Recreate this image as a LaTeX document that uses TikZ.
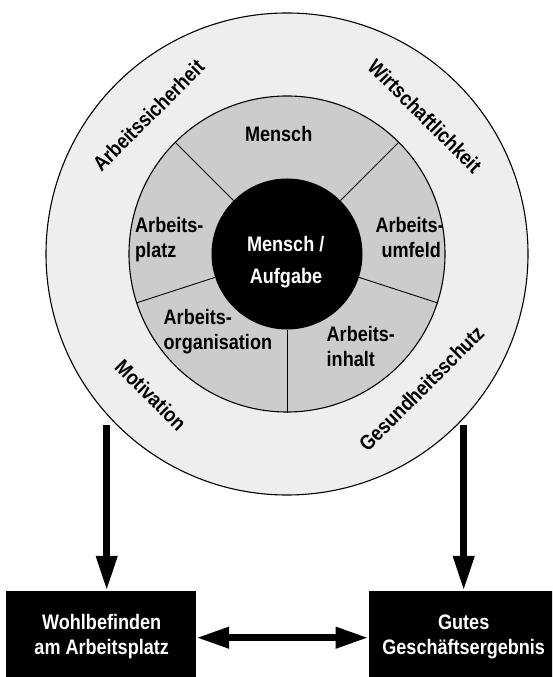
\documentclass[tikz,border=0pt]{standalone}
\usepackage{fontspec}
\newfontfamily\dfont{Liberation Sans}[FakeStretch=0.86]
\usetikzlibrary{arrows.meta,calc}
\definecolor{ringgray}{HTML}{EEEEEE}
\definecolor{sectgray}{HTML}{CCCCCC}
\begin{document}
\begin{tikzpicture}[x=1pt,y=1pt,
  lbl/.style={inner sep=0pt, font=\dfont\bfseries\fontsize{21pt}{25pt}\selectfont},
  wlbl/.style={lbl, text=white},
  ring/.style={circle, draw=black, line width=1.1pt, inner sep=0pt},
  divider/.style={draw=black, line width=0.9pt},
  resbox/.style={rectangle, fill=black, inner sep=0pt, minimum width=190pt, minimum height=93.4pt},
  bigarrow/.style={line width=7pt, -{Triangle[length=35pt 0 0,width=20pt 0 0]}},
  dblarrow/.style={line width=7pt, {Triangle[length=33pt 0 0,width=20pt 0 0]}-{Triangle[length=33pt 0 0,width=20pt 0 0]}}
]
\useasboundingbox (0,0) rectangle (552,677);
\clip (0,0) rectangle (552,677);
\fill[white] (0,0) rectangle (552,677);
\coordinate (C) at (287,423);
\node[ring, fill=ringgray, minimum size=482pt] (outer) at (C) {};
\node[ring, fill=sectgray, minimum size=316pt] (inner) at (C) {};
\node[circle, fill=black, inner sep=0pt, minimum size=151pt] (core) at (C) {};
\foreach \a in {45,135,198,270,342} \draw[divider] (core.\a) -- (inner.\a);

% sector labels
\node[lbl, anchor=base] (mensch) at (278.7,535.3) {Mensch};
\node[lbl, anchor=base west] (platzA) at (135,444.3) {Arbeits-};
\node[lbl, anchor=base west] (platzB) at (135,419.7) {platz};
\node[lbl, anchor=base east] (umfeldA) at (444,444.3) {Arbeits-};
\node[lbl, anchor=base east] (umfeldB) at (441,419.7) {umfeld};
\node[lbl, anchor=base west] (orgA) at (163.5,352) {Arbeits-};
\node[lbl, anchor=base west] (orgB) at (163.5,327.7) {organisation};
\node[lbl, anchor=base west] (inhaltA) at (326.5,335.3) {Arbeits-};
\node[lbl, anchor=base west] (inhaltB) at (326.5,310.7) {inhalt};
\node[wlbl, anchor=base] (coreA) at (285.7,425.3) {Mensch /};
\node[wlbl, anchor=base] (coreB) at (286,393) {Aufgabe};

% ring labels
\node[lbl, rotate=45] (sicher) at ($(C)+(135:196)$) {Arbeitssicherheit};
\node[lbl, rotate=-45] (wirt) at ($(C)+(45:195)$) {Wirtschaftlichkeit};
\node[lbl, rotate=-45] (moti) at ($(C)+(226:196)$) {Motivation};
\node[lbl, rotate=45] (gesund) at ($(C)+(315:190)$) {Gesundheitsschutz};

% result boxes
\node[resbox] (wbox) at (101,39.3) {};
\node[resbox] (gbox) at (463.7,39.3) {};
\node[wlbl, anchor=base] (wA) at (101.7,47.7) {Wohlbefinden};
\node[wlbl, anchor=base] (wB) at (101.7,23) {am Arbeitsplatz};
\node[wlbl, anchor=base] (gA) at (463.7,47.7) {Gutes};
\node[wlbl, anchor=base] (gB) at (463.7,22) {Geschäftsergebnis};

% arrows
\coordinate (lstart) at (106.7,252);
\coordinate (rstart) at (463.7,252);
\draw[bigarrow] (lstart) -- (lstart |- wbox.north);
\draw[bigarrow] (rstart) -- (rstart |- gbox.north);
\draw[dblarrow] (wbox.east) -- (gbox.west);
\end{tikzpicture}
\end{document}
